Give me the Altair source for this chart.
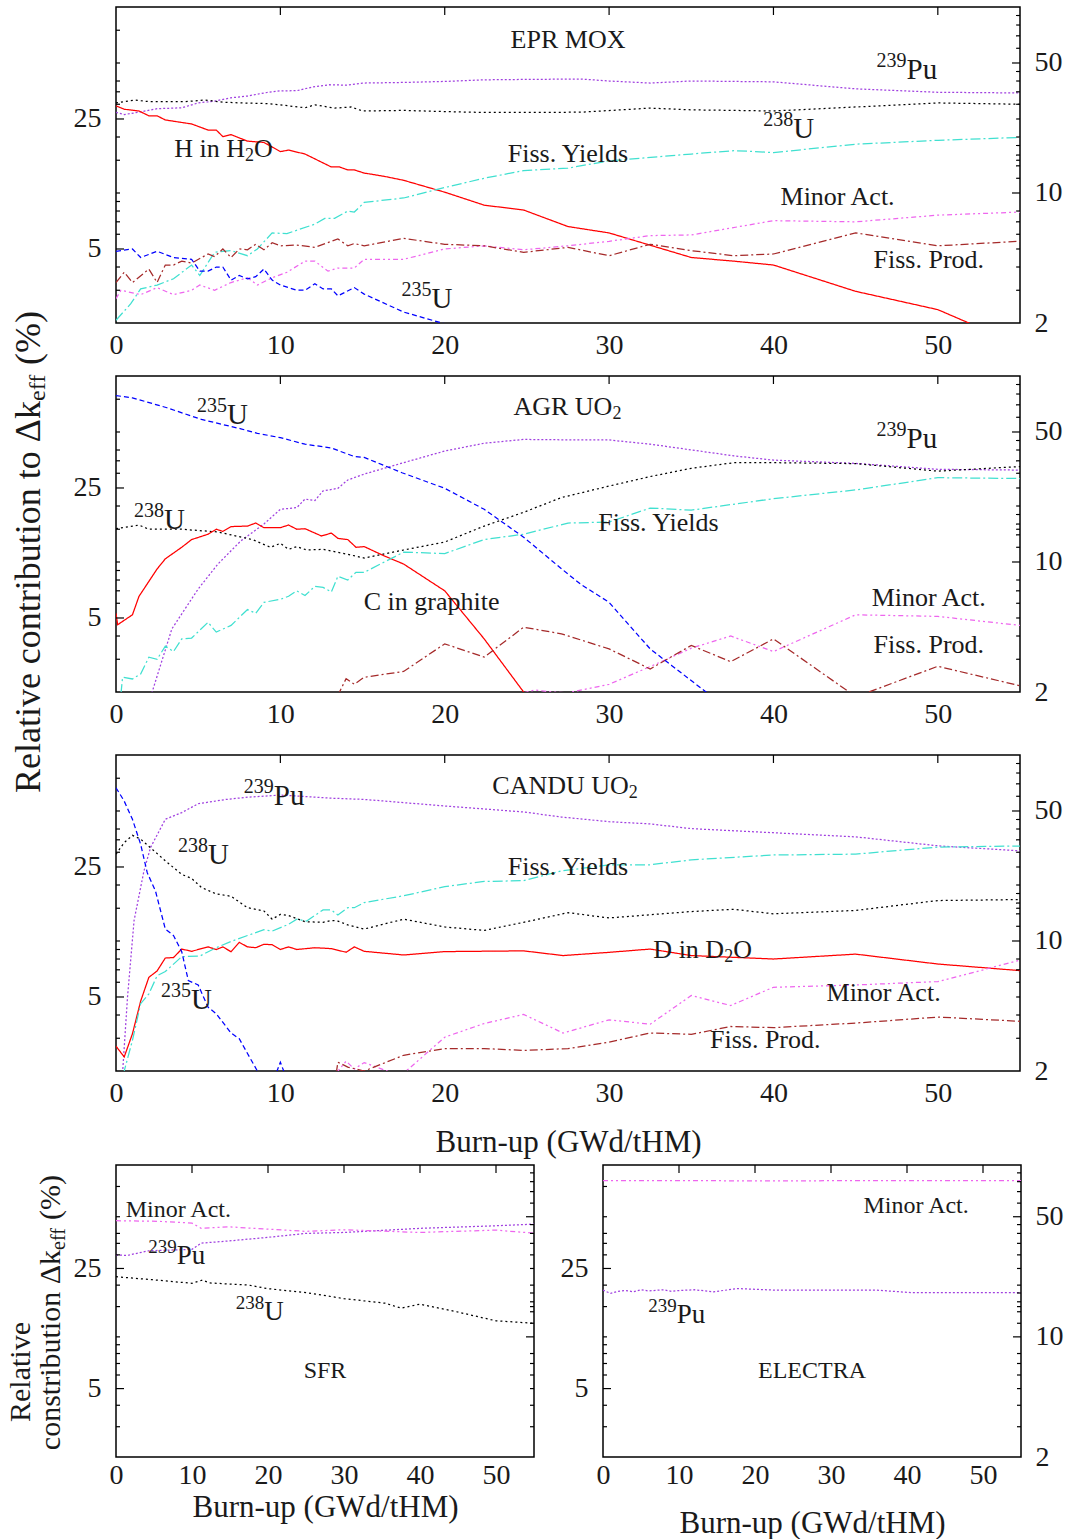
import altair as alt
import pandas as pd

FONT = "Liberation Serif"
TXT = "#1a1a1a"

# ---------------- axis values ----------------
BURNUP_TICKS = [0, 10, 20, 30, 40, 50]
LEFT_LABELS = [5, 25]
RIGHT_LABELS = [2, 10, 50]
LEFT_MINOR = [3, 4, 6, 7, 8, 9, 10, 15, 20, 30, 35, 40, 50, 75]
RIGHT_MAJOR = [10, 50]
RIGHT_MINOR = [3, 4, 5, 6, 7, 8, 12, 14, 15, 16, 18, 20, 25, 30, 35, 40, 45, 60, 70, 80, 90]
TOP_TICKS = [10, 20, 30, 40, 50]

SERIES = ["pu239", "u238", "mod", "fy", "ma", "fp", "u235"]
COLORS = ["#a040e0", "#000000", "#ff0000", "#40e0d0", "#ee66ee", "#a52a2a", "#0000ff"]
DASHES = [[2, 2], [2, 3], [1, 0], [10, 3, 2, 3], [5, 3, 2, 3, 2, 3], [8, 3, 2, 3], [5, 3]]

# ---------------- EPR MOX ----------------
epr_pu239 = [(0, 27.1), (0.5, 26.4), (1.5, 27.3), (2.5, 28.4), (4, 28.7), (5, 30.5), (6, 31.2), (7, 32.5),
             (8, 33.2), (9, 34.5), (10, 35.4), (11, 35.5), (12, 37.2), (13, 38.2), (14, 38.0), (15, 39.0),
             (17.5, 39.3), (20, 39.8), (22.4, 40.6), (25, 40.8), (28.3, 41.0), (30, 40.0), (32.5, 39.0),
             (35, 40.0), (37.5, 39.8), (40, 39.6), (45, 36.3), (50, 34.8), (55, 34.5)]
epr_u238 = [(0, 30.5), (1.1, 31.6), (2, 31.0), (3, 31.0), (4.2, 31.0), (5.4, 31.6), (6.5, 30.8), (7.5, 30.5),
            (9, 30.3), (10, 29.8), (11.5, 28.7), (12.1, 29.8), (13.3, 28.6), (14.3, 29.0), (15, 27.6),
            (17.5, 27.8), (20, 27.4), (22.4, 27.1), (25, 27.1), (28.3, 27.2), (32.5, 28.6), (35, 28.0),
            (40, 27.6), (45, 29.0), (50, 30.5), (55, 30.0)]
epr_mod = [(0, 29.4), (0.5, 28.2), (1.4, 27.6), (2.0, 26.0), (2.5, 26.0), (3.0, 24.7), (4.6, 23.5), (5.6, 21.8),
           (6.1, 21.8), (6.5, 20.1), (7.0, 20.6), (8.0, 19.0), (9.0, 18.7), (10.0, 16.7), (10.5, 17.0),
           (11.5, 16.2), (13.1, 13.8), (13.6, 13.8), (14.1, 13.3), (14.5, 13.3), (15.1, 12.8), (16.3, 12.3),
           (17.5, 11.7), (20, 10.1), (22.4, 8.6), (24.8, 8.1), (27.5, 6.6), (30, 6.1), (35, 4.5), (37.6, 4.3),
           (40, 4.1), (45, 2.96), (50, 2.36), (52, 1.98), (55, 1.6)]
epr_fy = [(0, 2.07), (0.9, 2.54), (1.5, 3.05), (2.5, 3.2), (3.5, 3.46), (4.6, 4.1), (5.1, 3.6), (6.0, 4.8),
          (7.0, 4.9), (8.0, 4.6), (8.6, 5.0), (9.5, 6.1), (10.4, 6.05), (12.1, 6.8), (12.7, 7.3), (13.3, 7.3),
          (14.1, 8.0), (14.5, 7.9), (15.1, 8.9), (17.5, 9.4), (20, 10.7), (22.4, 12.0), (24.8, 13.2),
          (27.5, 13.6), (30, 14.9), (35, 16.2), (37.6, 16.9), (40, 16.5), (45, 18.3), (50, 19.2), (55, 19.9)]
epr_ma = [(0, 2.7), (0.3, 3.0), (1.5, 2.84), (2.5, 3.1), (3.5, 2.84), (4.6, 3.0), (5.1, 3.2), (6.0, 3.0),
          (7.0, 3.3), (8.0, 3.5), (8.6, 3.2), (9.5, 3.5), (10.4, 3.75), (11.5, 4.3), (12.1, 4.3), (12.9, 3.8),
          (13.5, 3.95), (14.5, 3.95), (15.1, 4.4), (17.5, 4.4), (20, 5.0), (22.4, 5.2), (24.8, 4.95),
          (27.5, 5.2), (30, 5.5), (32.5, 5.9), (35, 5.95), (40, 7.1), (45, 7.0), (50, 7.6), (55, 7.9)]
epr_fp = [(0, 3.3), (0.5, 3.75), (1.0, 3.3), (2.0, 3.9), (2.5, 3.3), (3.0, 4.1), (3.5, 4.1), (4.0, 4.3),
          (4.6, 4.2), (5.6, 4.7), (6.0, 4.55), (6.5, 5.0), (7.0, 4.5), (7.5, 5.0), (8.0, 4.95), (8.5, 5.3),
          (9.0, 4.95), (9.5, 5.4), (10, 5.2), (11, 5.25), (12.1, 5.1), (13.5, 5.66), (14.1, 5.2), (14.5, 5.35),
          (15.1, 5.2), (17.5, 5.7), (20, 5.3), (22.4, 5.2), (24.8, 4.8), (27.5, 5.1), (30, 4.6), (32.5, 5.3),
          (35, 4.9), (37.6, 4.6), (40, 4.7), (45, 6.1), (50, 5.2), (55, 5.5)]
epr_u235 = [(0, 4.86), (1.0, 5.0), (1.5, 4.5), (2.5, 4.86), (3.5, 4.5), (4.6, 4.4), (5.1, 3.8), (5.6, 3.8),
            (6.1, 4.0), (6.5, 4.0), (7.0, 3.4), (7.5, 3.6), (8.0, 3.45), (8.5, 3.55), (9.0, 3.9), (9.5, 3.4),
            (10, 3.2), (11, 3.0), (11.5, 3.0), (12.1, 3.25), (12.6, 3.05), (13.1, 3.05), (13.5, 2.8),
            (14.5, 3.1), (15.1, 2.86), (17.5, 2.29), (20, 1.98), (21, 1.9)]

# ---------------- AGR UO2 ----------------
agr_u235 = [(0, 78.5), (1.0, 76.3), (3.1, 67.5), (5.2, 58.4), (7.6, 52), (8.6, 49.2), (10, 46.6), (11.5, 43),
            (13.1, 41), (14.5, 36.9), (15.1, 36.5), (17.4, 30.2), (20, 24.9), (22.4, 19.2), (24.8, 13.6),
            (27.1, 9.2), (28.3, 7.56), (30, 6.07), (32.5, 3.41), (33.8, 2.78), (35.9, 2.0), (37, 1.8)]
agr_pu239 = [(2.0, 1.9), (2.2, 2.0), (3.4, 4.37), (5.0, 7.16), (6.2, 9.75), (7.6, 13.0), (9.0, 16.0),
             (10, 19.2), (11, 19.6), (11.5, 21.8), (12.1, 21.4), (12.6, 24.1), (13.5, 24.9), (14.1, 27.6),
             (15.1, 29.7), (17.5, 34.2), (20, 39.5), (22.4, 43.5), (24.8, 45.6), (28.3, 45.3), (30, 45.3),
             (32.5, 43), (37.6, 37.2), (40, 35.3), (45, 33.9), (50, 31.5), (55, 31.2)]
agr_u238 = [(0, 15.1), (1.4, 15.8), (2.0, 15.0), (4.0, 15.0), (6.2, 14.5), (8.3, 13.2), (9.4, 12.0), (10, 12.6),
            (10.5, 11.7), (11, 12.1), (11.6, 11.6), (12.6, 11.7), (14.1, 11.0), (15.1, 10.5), (17.5, 11.6),
            (20, 12.8), (22.4, 15.6), (24.8, 18.5), (27.1, 22.2), (30, 25.6), (32.5, 28.8), (35, 31.9),
            (37.6, 34.2), (40, 34.2), (45, 33.8), (50, 30.8), (55, 32.6)]
agr_mod = [(0, 5.3), (0.1, 4.6), (1.0, 5.2), (1.4, 6.54), (2.5, 9.17), (3.0, 10.4), (4.0, 12.0), (4.6, 13.2),
           (5.6, 14.1), (6.1, 15.0), (6.5, 14.6), (7.0, 15.5), (8.0, 15.6), (8.5, 16.2), (9.0, 15.3),
           (10, 15.3), (10.5, 15.8), (11, 15.0), (11.5, 15.1), (12.5, 13.8), (13.1, 14.3), (13.5, 13.4),
           (14.1, 13.2), (14.6, 12.0), (15.1, 12.1), (16.3, 10.8), (17.5, 9.75), (20, 7.0), (22.4, 3.86),
           (24.8, 2.0), (25.5, 1.8)]
agr_fy = [(0.3, 1.95), (0.4, 2.4), (1.0, 2.35), (1.5, 2.5), (2.0, 3.08), (2.5, 3.0), (3.0, 3.53), (3.5, 3.3),
          (4.0, 3.86), (4.6, 3.9), (5.6, 4.74), (6.1, 4.2), (7.0, 4.56), (8.0, 5.55), (8.5, 5.3), (9.0, 6.07),
          (10, 6.3), (10.5, 6.54), (11, 7.0), (11.5, 6.6), (12.1, 7.4), (12.6, 7.3), (13.1, 6.9), (13.5, 8.37),
          (14.1, 8.0), (14.6, 8.8), (15.1, 8.8), (17.5, 11.3), (20, 11.1), (22.4, 13.2), (24.8, 14.1),
          (27.5, 16.2), (30, 16.4), (32.5, 19.5), (35, 19.0), (40, 21.9), (45, 24.4), (50, 28.4), (55, 28.1)]
agr_fp = [(13.5, 1.9), (13.6, 2.0), (14.0, 2.36), (14.5, 2.2), (15.1, 2.4), (17.5, 2.58), (20, 3.63),
          (22.4, 3.08), (24.8, 4.46), (27.1, 4.11), (30, 3.41), (32.5, 2.66), (35, 3.56), (37.4, 2.91),
          (40, 3.86), (44.6, 2.0), (45.2, 1.92), (45.8, 2.0), (50, 2.75), (55, 2.16)]
agr_ma = [(24.8, 1.98), (25.5, 2.05), (26.5, 2.0), (27.5, 1.98), (30, 2.2), (32.5, 2.74), (35, 3.44),
          (37.4, 4.0), (40, 3.3), (45, 5.2), (50, 5.1), (55, 4.56)]

# ---------------- CANDU UO2 ----------------
candu_pu239 = [(0.4, 1.95), (0.7, 4.99), (1.1, 12.9), (1.7, 23.8), (2.1, 31.8), (3.0, 45.1), (4.0, 49),
               (5.0, 54.7), (6.7, 57.7), (8.1, 59.4), (10, 60.9), (13.1, 58.6), (15.1, 57.7), (20, 53.2),
               (24.8, 49.4), (27.1, 46.4), (30, 43.8), (32.5, 42.6), (35, 40.2), (40, 38.2), (45, 36.3),
               (50, 32.5), (55, 30.5)]
candu_u238 = [(0, 29.3), (0.5, 33.8), (1.0, 37.0), (1.5, 35.3), (3.0, 27.0), (4.0, 22.8), (4.6, 21.7),
              (5.2, 19.4), (6.1, 17.9), (7.0, 17.4), (8.0, 15.1), (9.0, 14.5), (9.5, 13.1), (10, 13.9),
              (10.5, 13.7), (11.5, 12.7), (12.6, 12.6), (13.1, 12.9), (13.5, 12.8), (14.1, 12.2), (15.1, 11.6),
              (17.5, 13.1), (20, 11.9), (22.4, 11.4), (24.8, 12.6), (27.5, 14.2), (30, 13.3), (35, 14.4),
              (37.6, 14.8), (40, 14.0), (45, 14.6), (50, 16.5), (55, 16.7)]
candu_mod = [(0, 2.72), (0.5, 2.38), (1.0, 3.17), (1.5, 4.75), (2.0, 6.38), (2.5, 6.9), (3.0, 8.1), (3.5, 8.15),
             (4.0, 9.05), (4.6, 8.8), (5.6, 9.3), (6.1, 9.0), (6.5, 9.3), (7.0, 8.75), (7.5, 9.83), (8.0, 9.3),
             (8.5, 9.2), (9.0, 9.6), (9.5, 9.55), (10, 9.0), (10.5, 9.3), (11, 9.0), (12.1, 9.2), (13.1, 9.1),
             (14.0, 8.7), (14.5, 9.3), (15.1, 8.8), (17.5, 8.41), (20, 8.77), (24.8, 8.85), (27.2, 8.35),
             (30, 8.69), (32.5, 9.05), (35, 8.35), (40, 8.0), (45, 8.5), (50, 7.52), (55, 6.93)]
candu_fy = [(0.4, 1.9), (0.5, 2.0), (1.0, 2.92), (1.5, 4.6), (2.0, 5.2), (2.5, 6.5), (3.0, 6.85), (4.0, 8.24),
            (5.1, 8.3), (6.1, 9.2), (7.0, 9.95), (8.0, 10.7), (9.0, 11.5), (9.5, 11.3), (10.5, 12.3),
            (11, 13.1), (11.6, 12.8), (12.6, 14.7), (13.1, 14.7), (13.5, 13.8), (14.1, 15.1), (14.5, 15.1),
            (15.1, 16.1), (17.5, 17.5), (20, 19.6), (22.4, 20.9), (24.8, 21.1), (27.1, 23.8), (30, 25.7),
            (32.5, 25.7), (35, 27.3), (40, 29.0), (45, 29.3), (50, 32.0), (55, 32.4)]
candu_u235 = [(0, 66.7), (0.5, 56.5), (1.0, 45.1), (1.5, 33.1), (1.9, 23.3), (2.4, 18.6), (3.0, 11.6),
              (3.5, 10.7), (4.0, 8.75), (4.4, 6.13), (5.0, 5.8), (5.6, 4.41), (6.1, 4.06), (7.0, 3.2),
              (7.5, 2.98), (8.6, 2.0), (9.0, 1.8), (9.7, 1.9), (10, 2.23), (10.3, 1.9), (10.8, 1.7)]
candu_fp = [(13.4, 1.95), (13.5, 2.23), (14.1, 2.1), (15.1, 2.0), (17.5, 2.43), (20, 2.64), (22.4, 2.64),
            (24.8, 2.58), (27.5, 2.64), (30, 2.86), (32.5, 3.2), (35, 3.15), (37.4, 3.47), (40, 3.42),
            (45, 3.62), (50, 3.9), (55, 3.7)]
candu_ma = [(13.4, 1.95), (14.0, 2.26), (14.5, 2.05), (15.1, 2.22), (16.5, 2.0), (17.2, 1.9), (17.8, 2.05),
            (20, 3.04), (22.4, 3.6), (24.8, 4.03), (27.2, 3.2), (30, 3.77), (32.5, 3.57), (35, 5.09),
            (37.4, 4.5), (40, 5.64), (45, 5.8), (50, 6.05), (52.5, 6.9), (55, 7.9)]

# ---------------- SFR ----------------
sfr_ma = [(0, 47.4), (5.7, 47.0), (10, 45.9), (11.2, 42.8), (14.7, 43.7), (25, 41.1), (30, 42.0), (40, 40.5),
          (50, 41.8), (55, 40.1)]
sfr_pu239 = [(0, 29.9), (1.5, 29.8), (4.3, 31.7), (10, 32.3), (11.2, 35.1), (14.7, 36.1), (19.9, 37.9),
             (25, 40.0), (30, 40.5), (40, 42.8), (50, 44.3), (55, 45.3)]
sfr_u238 = [(0, 22.4), (4.8, 21.5), (10, 20.5), (11.4, 21.4), (12.3, 20.6), (17.5, 20.0), (19.9, 19.1),
            (25, 18.1), (30, 16.7), (35.4, 15.7), (37.5, 14.7), (40, 15.5), (44.8, 14.0), (50, 12.4), (55, 12.0)]

# ---------------- ELECTRA ----------------
el_ma = [(0, 81.0), (10, 81.2), (20, 80.8), (30, 81.0), (40, 81.0), (55, 81.0)]
el_pu239 = [(0, 18.7), (1, 17.9), (2, 18.4), (3, 18.6), (4, 18.3), (5, 18.8), (6, 18.5), (8, 18.8), (9, 18.4),
            (10, 18.6), (12, 18.8), (14.5, 18.3), (17.8, 19.1), (22.7, 18.7), (36, 18.7), (40.5, 18.1), (55, 18.1)]

# ---------------- in-plot labels (x, y, text) ----------------
EPR_CENTER = [(27.5, 66.7, "EPR MOX"), (27.5, 16.3, "Fiss. Yields"), (43.9, 9.48, "Minor Act."),
              (49.45, 4.35, "Fiss. Prod.")]
EPR_NUC = [(48.1, 46.0, "239", "Pu"), (41.2, 22.2, "238", "U"), (19.2, 2.69, "235", "U")]
EPR_FORM = [(7.85, 17.3, "H in H", "2", "O")]

AGR_CENTER = [(33.0, 16.3, "Fiss. Yields"), (19.2, 6.07, "C in graphite"), (49.45, 6.38, "Minor Act."),
              (49.45, 3.57, "Fiss. Prod.")]
AGR_NUC = [(6.75, 61.9, "235", "U"), (48.1, 46.0, "239", "Pu"), (2.92, 16.9, "238", "U")]
AGR_FORM = [(30.2, 68.3, "AGR UO", "2", "")]

CANDU_CENTER = [(27.5, 25.1, "Fiss. Yields"), (46.7, 5.24, "Minor Act."), (39.5, 2.93, "Fiss. Prod.")]
CANDU_NUC = [(9.6, 60.4, "239", "Pu"), (5.6, 29.1, "238", "U"), (4.56, 4.8, "235", "U")]
CANDU_FORM = [(31.2, 68.3, "CANDU UO", "2", ""), (37.0, 8.91, "D in D", "2", "O")]

SFR_CENTER = [(8.2, 54.9, "Minor Act."), (27.5, 6.34, "SFR")]
SFR_NUC = [(8.0, 29.4, "239", "Pu"), (19.5, 14.0, "238", "U")]

EL_CENTER = [(41.2, 58.0, "Minor Act."), (27.5, 6.34, "ELECTRA")]
EL_NUC = [(9.7, 13.4, "239", "Pu")]

XTITLE = "Burn-up (GWd/tHM)"


def xscale():
    return alt.Scale(domain=[0, 55], nice=False, zero=False)


def yscale():
    return alt.Scale(type="log", domain=[2, 100], nice=False)


def xaxis(title=None, title_y=0, pad=8):
    kw = dict(values=BURNUP_TICKS, format="d", ticks=False, tickSize=0, domain=False, grid=False,
              labelFont=FONT, labelFontSize=28, labelColor=TXT, labelPadding=pad, labelFlush=False)
    if title:
        kw.update(title=title, titleFont=FONT, titleFontSize=31, titleFontWeight="normal",
                  titleColor=TXT, titleY=title_y, titleBaseline="middle")
    else:
        kw.update(title=None)
    return alt.Axis(**kw)


def text_layer(rows, xax, align, size, dx=0, dy=0):
    df = pd.DataFrame(rows, columns=["x", "y", "t"])
    return alt.Chart(df).mark_text(align=align, baseline="middle", font=FONT, fontSize=size,
                                   color=TXT, dx=dx, dy=dy).encode(
        x=alt.X("x:Q", scale=xscale(), axis=xax),
        y=alt.Y("y:Q", scale=yscale(), axis=None),
        text="t:N")


def rule_y(values, x1, x2, axis=None):
    return alt.Chart(pd.DataFrame({"v": values})).mark_rule(color="black", strokeWidth=1.2).encode(
        x=alt.value(x1), x2=alt.value(x2),
        y=alt.Y("v:Q", scale=yscale(), axis=axis))


def panel(curves, centers, nucs, forms, w, h, fs, xax, right_labels=True, extra=()):
    rows = []
    for name, pts in curves.items():
        for i, (x, y) in enumerate(pts):
            rows.append({"s": name, "x": x, "y": y, "i": i})
    df = pd.DataFrame(rows)
    lines = alt.Chart(df).mark_line(clip=True, strokeWidth=1.25).encode(
        x=alt.X("x:Q", scale=xscale(), axis=xax),
        y=alt.Y("y:Q", scale=yscale(), axis=alt.Axis(
            orient="left", values=LEFT_LABELS, format="d", ticks=False, tickSize=0, domain=False,
            grid=False, labelFont=FONT, labelFontSize=28, labelColor=TXT, labelPadding=15, title=None)),
        color=alt.Color("s:N", scale=alt.Scale(domain=SERIES, range=COLORS), legend=None),
        strokeDash=alt.StrokeDash("s:N", scale=alt.Scale(domain=SERIES, range=DASHES), legend=None),
        order="i:Q",
    )
    raxis = None
    if right_labels:
        raxis = alt.Axis(orient="right", values=RIGHT_LABELS, format="d", ticks=False, tickSize=0,
                         domain=False, grid=False, labelFont=FONT, labelFontSize=28, labelColor=TXT,
                         labelPadding=14, title=None)
    layers = [lines,
              rule_y(RIGHT_MAJOR, w - 8, w, raxis),
              rule_y(LEFT_LABELS, 0, 8),
              rule_y(LEFT_MINOR, 0, 4),
              rule_y(RIGHT_MINOR, w - 4, w),
              alt.Chart(pd.DataFrame({"v": TOP_TICKS})).mark_rule(color="black", strokeWidth=1.2).encode(
                  x=alt.X("v:Q", scale=xscale(), axis=xax), y=alt.value(0), y2=alt.value(8))]
    layers.append(text_layer(centers, xax, "center", fs))
    nfs = fs + 3
    layers.append(text_layer([(x, y, s) for x, y, s, m in nucs], xax, "right", round(nfs * 0.7), dy=-9))
    layers.append(text_layer([(x, y, m) for x, y, s, m in nucs], xax, "left", nfs))
    if forms:
        layers.append(text_layer([(f[0], f[1], f[2]) for f in forms], xax, "right", fs))
        layers.append(text_layer([(f[0], f[1], f[3]) for f in forms], xax, "left", round(fs * 0.7), dy=7))
        post = [(f[0], f[1], f[4]) for f in forms if f[4]]
        if post:
            layers.append(text_layer(post, xax, "left", fs, dx=9))
    layers.extend(extra)
    return alt.layer(*layers).resolve_scale(y="independent").properties(width=w, height=h)


def rot_text(text, x, y, size, align, dx=0, dy=0):
    return alt.Chart(pd.DataFrame({"t": [text]})).mark_text(
        angle=270, align=align, baseline="middle", font=FONT, fontSize=size, color=TXT, dx=dx, dy=dy
    ).encode(x=alt.value(x), y=alt.value(y), text="t:N")


def spacer(h, w):
    return alt.Chart(pd.DataFrame({"a": [0]})).mark_point(opacity=0).encode(
        x=alt.value(0), y=alt.value(0)).properties(width=w, height=h, view=alt.ViewBackground(strokeOpacity=0))


W, H = 904, 316
WB, HB = 418, 292

big_title = [rot_text("Relative contribution to Δk", -87, 25, 36, "right"),
             rot_text("eff", -87, 25, 24, "left", dy=9),
             rot_text("(%)", -87, 25, 36, "left", dx=36)]
small_title = [rot_text("Relative", -95, 207, 30, "center"),
               rot_text("constribution Δk", -65, 85, 30, "right"),
               rot_text("eff", -65, 85, 20, "left", dy=8),
               rot_text("(%)", -65, 85, 30, "left", dx=30)]

p1 = panel({"pu239": epr_pu239, "u238": epr_u238, "mod": epr_mod, "fy": epr_fy, "ma": epr_ma,
            "fp": epr_fp, "u235": epr_u235}, EPR_CENTER, EPR_NUC, EPR_FORM, W, H, 26, xaxis())
p2 = panel({"pu239": agr_pu239, "u238": agr_u238, "mod": agr_mod, "fy": agr_fy, "ma": agr_ma,
            "fp": agr_fp, "u235": agr_u235}, AGR_CENTER, AGR_NUC, AGR_FORM, W, H, 26, xaxis(),
           extra=big_title)
p3 = panel({"pu239": candu_pu239, "u238": candu_u238, "mod": candu_mod, "fy": candu_fy, "ma": candu_ma,
            "fp": candu_fp, "u235": candu_u235}, CANDU_CENTER, CANDU_NUC, CANDU_FORM, W, H, 26,
           xaxis(XTITLE, 71))
p4 = panel({"pu239": sfr_pu239, "u238": sfr_u238, "ma": sfr_ma}, SFR_CENTER, SFR_NUC, [], WB, HB, 24,
           xaxis(XTITLE, 50, pad=4), right_labels=False, extra=small_title)
p5 = panel({"pu239": el_pu239, "ma": el_ma}, EL_CENTER, EL_NUC, [], WB, HB, 24, xaxis(XTITLE, 66, pad=4))

bottom = alt.hconcat(p4, p5, spacing=69, bounds="flush")
chart = alt.vconcat(p1, spacer(53, W), p2, spacer(63, W), p3, spacer(94, W), bottom,
                    spacing=0, bounds="flush").properties(
    padding={"left": 5, "top": 5, "right": 0, "bottom": 0},
    background="white",
).configure(font=FONT).configure_view(stroke="black", strokeWidth=1.5)

chart.save("out.html", embed_options={"renderer": "svg", "actions": False})
